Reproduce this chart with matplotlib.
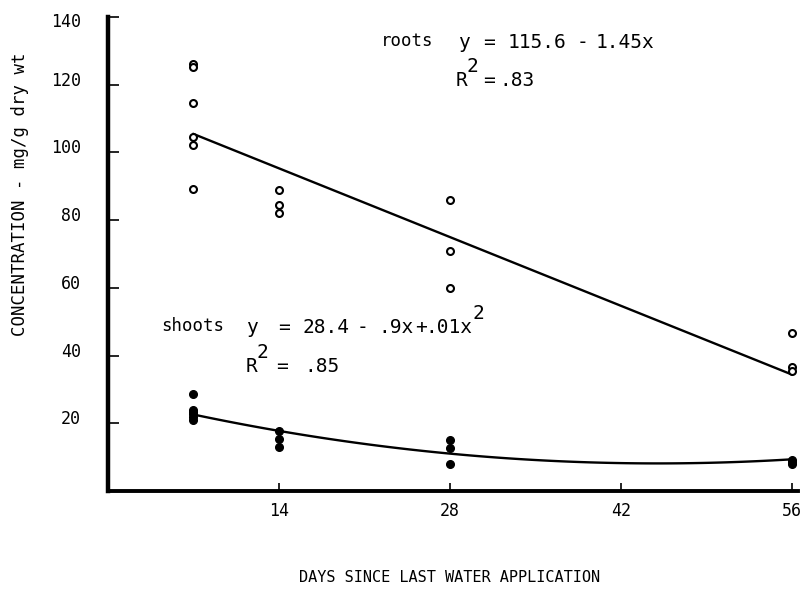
import numpy as np
import matplotlib
matplotlib.use("Agg")
import matplotlib.pyplot as plt
from matplotlib.transforms import ScaledTranslation

# days since last watering and measured concentrations (mg/g dry wt)
roots_days = [7, 7, 7, 7, 7, 7, 14, 14, 14, 28, 28, 28, 56, 56, 56]
roots_conc = [126.1, 125.1, 114.5, 104.7, 102.1, 89.1,
              88.8, 84.6, 82.0,
              86.0, 70.9, 60.1,
              46.6, 36.6, 35.4]

shoots_days = [7, 7, 7, 7, 7, 7, 14, 14, 14, 28, 28, 28, 56, 56, 56]
shoots_conc = [28.6, 23.9, 23.4, 22.8, 22.0, 21.0,
               17.7, 15.3, 12.9,
               15.0, 12.6, 7.9,
               9.1, 8.6, 8.0]

# fitted regressions
roots_coef = [115.6, -1.45]          # y = 115.6 - 1.45x
shoots_coef = [28.4, -0.9, 0.01]     # y = 28.4 - .9x + .01x^2

xticks = [14, 28, 42, 56]
yticks = [20, 40, 60, 80, 100, 120, 140]

W, H = 803, 596
plt.rcParams['font.family'] = ['DejaVu Sans Mono']
FS = 12      # tick labels
EQ = 14      # typed equations

fig = plt.figure(figsize=(W / 100, H / 100), dpi=100)
# axes box in pixels: x 0 at 108, y 0 at 491, 140 at 17
ax = fig.add_axes([108 / W, 1 - 491 / H, 690 / W, 474 / H])


def ptext(s, px, py, size=EQ):
    # typed token placed by pixel position (centre, baseline)
    fig.text(px / W, 1 - py / H, s, fontsize=size, ha='center', va='baseline')


xs = np.linspace(7, 56, 120)
ax.plot(xs, roots_coef[0] + roots_coef[1] * xs, color='black', lw=1.7)
ax.plot(xs, shoots_coef[0] + shoots_coef[1] * xs + shoots_coef[2] * xs**2,
        color='black', lw=1.7)

ax.plot(roots_days, roots_conc, 'o', mfc='white', mec='black', ms=5, mew=1.5)
ax.plot(shoots_days, shoots_conc, 'o', color='black', ms=5.5)

ax.set_xlim(0, 56.5)
ax.set_ylim(0, 140)
ax.set_xticks(xticks)
ax.set_yticks(yticks)
ax.tick_params(axis='both', direction='in', width=1.2, labelsize=FS,
               colors='black')
ax.tick_params(axis='y', length=8, pad=19.5)
ax.tick_params(axis='x', length=6, pad=8)

# typed labels sit a little above their ticks
for lbl in ax.get_yticklabels():
    dy = -3 if lbl.get_text() == '140' else 6
    lbl.set_transform(lbl.get_transform() +
                      ScaledTranslation(0, dy / 100, fig.dpi_scale_trans))

for s in ['top', 'right']:
    ax.spines[s].set_visible(False)
ax.spines['left'].set_linewidth(3.2)
ax.spines['bottom'].set_linewidth(2.8)

fig.text(450 / W, 1 - 578 / H, 'DAYS SINCE LAST WATER APPLICATION',
         fontsize=11, ha='center', va='center')
fig.text(20 / W, 1 - 194 / H, 'CONCENTRATION - mg/g dry wt',
         fontsize=12.5, ha='center', va='center', rotation=90)

# roots equation
ptext('roots', 407, 46, 12.5)
ptext('y', 464, 48)
ptext('=', 489, 48)
ptext('115.6', 537, 48)
ptext('-', 583, 48)
ptext('1.45x', 625, 48)
ptext('R', 462, 86)
ptext('2', 472, 72)
ptext('=', 489, 86)
ptext('.83', 517, 86)

# shoots equation
ptext('shoots', 193, 331, 12.5)
ptext('y', 252, 333)
ptext('=', 284, 333)
ptext('28.4', 326, 333)
ptext('-', 363, 333)
ptext('.9x', 396, 333)
ptext('+', 421, 333)
ptext('.01x', 449, 333)
ptext('2', 478, 319)
ptext('R', 252, 372)
ptext('2', 262, 358)
ptext('=', 282, 372)
ptext('.85', 322, 372)

fig.savefig('out.png', dpi=100)
